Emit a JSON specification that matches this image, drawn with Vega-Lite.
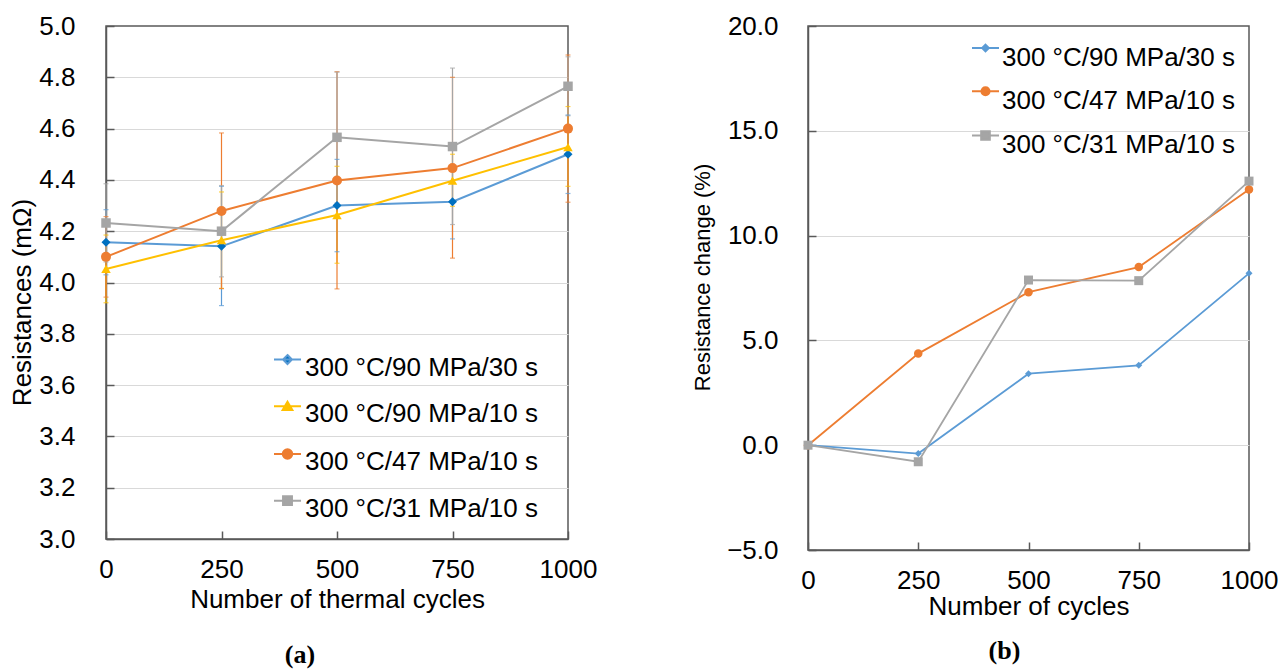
{
  "$schema": "https://vega.github.io/schema/vega-lite/v6.json",
  "background": "white",
  "padding": {"left": 9, "top": 12, "right": 5, "bottom": 5},
  "bounds": "flush",
  "spacing": 240,
  "datasets": {
    "a": [
      {"cycles": 0, "series": "300 °C/90 MPa/30 s", "r": 4.157, "lo": 4.03, "hi": 4.284},
      {"cycles": 250, "series": "300 °C/90 MPa/30 s", "r": 4.141, "lo": 3.91, "hi": 4.375},
      {"cycles": 500, "series": "300 °C/90 MPa/30 s", "r": 4.3, "lo": 4.12, "hi": 4.48},
      {"cycles": 750, "series": "300 °C/90 MPa/30 s", "r": 4.315, "lo": 4.17, "hi": 4.46},
      {"cycles": 1000, "series": "300 °C/90 MPa/30 s", "r": 4.5, "lo": 4.347, "hi": 4.653},
      {"cycles": 0, "series": "300 °C/90 MPa/10 s", "r": 4.053, "lo": 3.921, "hi": 4.185},
      {"cycles": 250, "series": "300 °C/90 MPa/10 s", "r": 4.165, "lo": 3.977, "hi": 4.353},
      {"cycles": 500, "series": "300 °C/90 MPa/10 s", "r": 4.263, "lo": 4.075, "hi": 4.453},
      {"cycles": 750, "series": "300 °C/90 MPa/10 s", "r": 4.397, "lo": 4.297, "hi": 4.5},
      {"cycles": 1000, "series": "300 °C/90 MPa/10 s", "r": 4.528, "lo": 4.375, "hi": 4.686},
      {"cycles": 0, "series": "300 °C/47 MPa/10 s", "r": 4.1, "lo": 3.943, "hi": 4.257},
      {"cycles": 250, "series": "300 °C/47 MPa/10 s", "r": 4.279, "lo": 3.976, "hi": 4.583},
      {"cycles": 500, "series": "300 °C/47 MPa/10 s", "r": 4.398, "lo": 3.975, "hi": 4.822},
      {"cycles": 750, "series": "300 °C/47 MPa/10 s", "r": 4.446, "lo": 4.095, "hi": 4.8},
      {"cycles": 1000, "series": "300 °C/47 MPa/10 s", "r": 4.6, "lo": 4.313, "hi": 4.887},
      {"cycles": 0, "series": "300 °C/31 MPa/10 s", "r": 4.232, "lo": 4.08, "hi": 4.385},
      {"cycles": 250, "series": "300 °C/31 MPa/10 s", "r": 4.2, "lo": 4.022, "hi": 4.378},
      {"cycles": 500, "series": "300 °C/31 MPa/10 s", "r": 4.566, "lo": 4.31, "hi": 4.82},
      {"cycles": 750, "series": "300 °C/31 MPa/10 s", "r": 4.53, "lo": 4.226, "hi": 4.836},
      {"cycles": 1000, "series": "300 °C/31 MPa/10 s", "r": 4.765, "lo": 4.65, "hi": 4.88}
    ],
    "b": [
      {"cycles": 0, "series": "300 °C/90 MPa/30 s", "change": 0},
      {"cycles": 250, "series": "300 °C/90 MPa/30 s", "change": -0.4},
      {"cycles": 500, "series": "300 °C/90 MPa/30 s", "change": 3.41},
      {"cycles": 750, "series": "300 °C/90 MPa/30 s", "change": 3.81},
      {"cycles": 1000, "series": "300 °C/90 MPa/30 s", "change": 8.2},
      {"cycles": 0, "series": "300 °C/47 MPa/10 s", "change": 0},
      {"cycles": 250, "series": "300 °C/47 MPa/10 s", "change": 4.37},
      {"cycles": 500, "series": "300 °C/47 MPa/10 s", "change": 7.3},
      {"cycles": 750, "series": "300 °C/47 MPa/10 s", "change": 8.5},
      {"cycles": 1000, "series": "300 °C/47 MPa/10 s", "change": 12.2},
      {"cycles": 0, "series": "300 °C/31 MPa/10 s", "change": 0},
      {"cycles": 250, "series": "300 °C/31 MPa/10 s", "change": -0.79},
      {"cycles": 500, "series": "300 °C/31 MPa/10 s", "change": 7.88},
      {"cycles": 750, "series": "300 °C/31 MPa/10 s", "change": 7.85},
      {"cycles": 1000, "series": "300 °C/31 MPa/10 s", "change": 12.6}
    ]
  },
  "hconcat": [
    {
      "width": 462,
      "height": 513,
      "data": {"name": "a"},
      "title": {"text": "(a)", "orient": "bottom", "anchor": "middle", "font": "Liberation Serif", "fontSize": 26, "fontWeight": "bold", "color": "#000000", "offset": 30, "dx": -37},
      "encoding": {
        "x": {"field": "cycles", "type": "quantitative", "title": "Number of thermal cycles", "scale": {"domain": [0, 1000], "nice": false, "zero": false}, "axis": {"values": [0, 250, 500, 750, 1000], "format": "d", "grid": false, "labelPadding": 25, "titlePadding": 4}},
        "y": {"field": "r", "type": "quantitative", "title": "Resistances (mΩ)", "scale": {"domain": [3, 5], "nice": false, "zero": false}, "axis": {"values": [3, 3.2, 3.4, 3.6, 3.8, 4, 4.2, 4.4, 4.6, 4.8, 5], "format": ".1f", "grid": true, "labelPadding": 39, "titlePadding": 3, "titleY": 276, "gridColor": {"condition": {"test": "datum.value <= 3.01 || datum.value >= 4.99", "value": "transparent"}, "value": "#d9d9d9"}}}
      },
      "layer": [
        {"mark": {"type": "rule", "strokeWidth": 1.2}, "encoding": {"y": {"field": "lo", "type": "quantitative", "title": "Resistances (mΩ)"}, "y2": {"field": "hi"}, "color": {"field": "series", "type": "nominal", "scale": {"domain": ["300 °C/31 MPa/10 s", "300 °C/47 MPa/10 s", "300 °C/90 MPa/10 s", "300 °C/90 MPa/30 s"], "range": ["#A5A5A5", "#ED7D31", "#FFC000", "#5B9BD5"]}, "legend": null}}},
        {"mark": {"type": "tick", "orient": "horizontal", "size": 5, "thickness": 1.2}, "encoding": {"y": {"field": "lo", "type": "quantitative", "title": "Resistances (mΩ)"}, "color": {"field": "series", "type": "nominal", "legend": null}}},
        {"mark": {"type": "tick", "orient": "horizontal", "size": 5, "thickness": 1.2}, "encoding": {"y": {"field": "hi", "type": "quantitative", "title": "Resistances (mΩ)"}, "color": {"field": "series", "type": "nominal", "legend": null}}},
        {"mark": {"type": "line", "strokeWidth": 2}, "encoding": {"color": {"field": "series", "type": "nominal", "legend": null}}},
        {"transform": [{"filter": {"field": "series", "equal": "300 °C/90 MPa/30 s"}}], "mark": {"type": "point", "shape": "diamond", "filled": true, "size": 81, "color": "#0070C0", "opacity": 1}},
        {"transform": [{"filter": {"field": "series", "equal": "300 °C/90 MPa/10 s"}}], "mark": {"type": "point", "shape": "triangle-up", "filled": true, "size": 90, "color": "#FFC000", "opacity": 1}},
        {"transform": [{"filter": {"field": "series", "equal": "300 °C/47 MPa/10 s"}}], "mark": {"type": "point", "shape": "circle", "filled": true, "size": 100, "color": "#ED7D31", "opacity": 1}},
        {"transform": [{"filter": {"field": "series", "equal": "300 °C/31 MPa/10 s"}}], "mark": {"type": "point", "shape": "square", "filled": true, "size": 90, "color": "#A5A5A5", "opacity": 1}},
        {
          "transform": [{"filter": "datum.cycles < 0"}],
          "mark": {"type": "point", "filled": true, "opacity": 1},
          "encoding": {
            "fill": {"field": "series", "type": "nominal", "scale": {"domain": ["300 °C/90 MPa/30 s", "300 °C/90 MPa/10 s", "300 °C/47 MPa/10 s", "300 °C/31 MPa/10 s"], "range": ["#0070C0", "#FFC000", "#ED7D31", "#A5A5A5"]}, "legend": {"orient": "none", "legendX": 167, "legendY": 327, "direction": "vertical", "title": null, "rowPadding": 16.7, "labelOffset": 3, "symbolSize": 729}},
            "stroke": {"field": "series", "type": "nominal", "scale": {"domain": ["300 °C/90 MPa/30 s", "300 °C/90 MPa/10 s", "300 °C/47 MPa/10 s", "300 °C/31 MPa/10 s"], "range": ["#5B9BD5", "#FFC000", "#ED7D31", "#A5A5A5"]}, "legend": {"orient": "none", "legendX": 167, "legendY": 327, "direction": "vertical", "title": null, "rowPadding": 16.7, "labelOffset": 3, "symbolSize": 729}},
            "shape": {"field": "series", "type": "nominal", "scale": {"domain": ["300 °C/90 MPa/30 s", "300 °C/90 MPa/10 s", "300 °C/47 MPa/10 s", "300 °C/31 MPa/10 s"], "range": [
              "M-1,-0.59H1M0,-0.92L0.33,-0.59L0,-0.26L-0.33,-0.59Z",
              "M-1,-0.59H1M0,-0.92L0.36,-0.32L-0.36,-0.32Z",
              "M-1,-0.59H1M-0.35,-0.59A0.35,0.35 0 1,0 0.35,-0.59A0.35,0.35 0 1,0 -0.35,-0.59Z",
              "M-1,-0.59H1M-0.33,-0.92H0.33V-0.26H-0.33Z"
            ]}, "legend": {"orient": "none", "legendX": 167, "legendY": 327, "direction": "vertical", "title": null, "rowPadding": 16.7, "labelOffset": 3, "symbolSize": 729}}
          }
        }
      ]
    },
    {
      "width": 441,
      "height": 524,
      "data": {"name": "b"},
      "title": {"text": "(b)", "orient": "bottom", "anchor": "middle", "font": "Liberation Serif", "fontSize": 26, "fontWeight": "bold", "color": "#000000", "offset": 19, "dx": -24},
      "encoding": {
        "x": {"field": "cycles", "type": "quantitative", "title": "Number of cycles", "scale": {"domain": [0, 1000], "nice": false, "zero": false}, "axis": {"values": [0, 250, 500, 750, 1000], "format": "d", "grid": false, "labelPadding": 25, "titlePadding": 0}},
        "y": {"field": "change", "type": "quantitative", "title": "Resistance change (%)", "scale": {"domain": [-5, 20], "nice": false, "zero": false}, "axis": {"values": [-5, 0, 5, 10, 15, 20], "format": ".1f", "grid": true, "labelPadding": 38, "titlePadding": 12, "titleFontSize": 22, "titleY": 251, "gridColor": {"condition": {"test": "datum.value <= -4.9 || datum.value >= 19.9", "value": "transparent"}, "value": "#d9d9d9"}}}
      },
      "layer": [
        {"mark": {"type": "line", "strokeWidth": 1.8}, "encoding": {"color": {"field": "series", "type": "nominal", "scale": {"domain": ["300 °C/31 MPa/10 s", "300 °C/47 MPa/10 s", "300 °C/90 MPa/30 s"], "range": ["#A5A5A5", "#ED7D31", "#5B9BD5"]}, "legend": null}}},
        {"transform": [{"filter": {"field": "series", "equal": "300 °C/90 MPa/30 s"}}], "mark": {"type": "point", "shape": "diamond", "filled": true, "size": 49, "color": "#5B9BD5", "opacity": 1}},
        {"transform": [{"filter": {"field": "series", "equal": "300 °C/47 MPa/10 s"}}], "mark": {"type": "point", "shape": "circle", "filled": true, "size": 72, "color": "#ED7D31", "opacity": 1}},
        {"transform": [{"filter": {"field": "series", "equal": "300 °C/31 MPa/10 s"}}], "mark": {"type": "point", "shape": "square", "filled": true, "size": 81, "color": "#A5A5A5", "opacity": 1}},
        {
          "transform": [{"filter": "datum.cycles < 0"}],
          "mark": {"type": "point", "filled": true, "opacity": 1},
          "encoding": {
            "fill": {"field": "series", "type": "nominal", "scale": {"domain": ["300 °C/90 MPa/30 s", "300 °C/47 MPa/10 s", "300 °C/31 MPa/10 s"], "range": ["#5B9BD5", "#ED7D31", "#A5A5A5"]}, "legend": {"orient": "none", "legendX": 163, "legendY": 17, "direction": "vertical", "title": null, "rowPadding": 12.2, "labelOffset": 2, "symbolSize": 729}},
            "stroke": {"field": "series", "type": "nominal", "scale": {"domain": ["300 °C/90 MPa/30 s", "300 °C/47 MPa/10 s", "300 °C/31 MPa/10 s"], "range": ["#5B9BD5", "#ED7D31", "#A5A5A5"]}, "legend": {"orient": "none", "legendX": 163, "legendY": 17, "direction": "vertical", "title": null, "rowPadding": 12.2, "labelOffset": 2, "symbolSize": 729}},
            "shape": {"field": "series", "type": "nominal", "scale": {"domain": ["300 °C/90 MPa/30 s", "300 °C/47 MPa/10 s", "300 °C/31 MPa/10 s"], "range": [
              "M-1,-0.7H1M0,-0.95L0.25,-0.7L0,-0.45L-0.25,-0.7Z",
              "M-1,-0.7H1M-0.3,-0.7A0.3,0.3 0 1,0 0.3,-0.7A0.3,0.3 0 1,0 -0.3,-0.7Z",
              "M-1,-0.7H1M-0.32,-1.02H0.32V-0.38H-0.32Z"
            ]}, "legend": {"orient": "none", "legendX": 163, "legendY": 17, "direction": "vertical", "title": null, "rowPadding": 12.2, "labelOffset": 2, "symbolSize": 729}}
          }
        }
      ]
    }
  ],
  "resolve": {
    "scale": {"x": "independent", "y": "independent", "color": "independent", "fill": "independent", "stroke": "independent", "shape": "independent"},
    "legend": {"color": "independent", "fill": "independent", "stroke": "independent", "shape": "independent"}
  },
  "config": {
    "font": "Liberation Sans",
    "view": {"stroke": "#595959", "strokeWidth": 1.5},
    "axis": {"domainColor": "#595959", "domainWidth": 1.5, "tickColor": "#595959", "tickWidth": 1.5, "tickSize": -8, "labelFontSize": 26, "titleFontSize": 26, "labelColor": "#000000", "titleColor": "#000000", "titleFontWeight": "normal", "gridWidth": 1.2, "labelFlush": false, "labelOverlap": false},
    "legend": {"labelFontSize": 26, "labelColor": "#000000", "labelLimit": 400, "padding": 0, "symbolSize": 729, "symbolStrokeWidth": 2}
  }
}
